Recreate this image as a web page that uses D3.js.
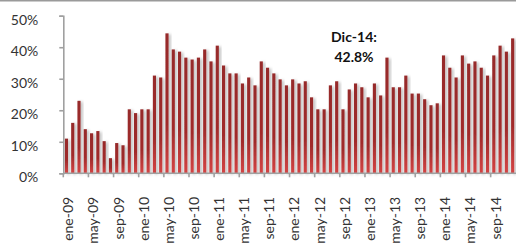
<!DOCTYPE html>
<html>
<head>
<meta charset="utf-8">
<script src="https://cdn.jsdelivr.net/npm/d3@7"></script>
<style>
  body { margin: 0; background: #fff; }
  svg { display: block; font-family: Lato, "Open Sans", sans-serif; }
</style>
</head>
<body>
<svg id="chart"></svg>
<script>
// monthly share, ene-09 .. dic-14
const months = ["ene", "feb", "mar", "abr", "may", "jun", "jul", "ago", "sep", "oct", "nov", "dic"];
const years = ["09", "10", "11", "12", "13", "14"];
const values = [
  11.0, 16.0, 23.0, 14.0, 12.7, 13.4, 10.2, 4.8, 9.6, 8.9, 20.3, 19.1,
  20.3, 20.3, 31.0, 30.4, 44.4, 39.3, 38.6, 36.7, 36.1, 36.7, 39.3, 35.5,
  40.5, 34.2, 31.7, 31.7, 28.5, 30.4, 27.9, 35.5, 33.5, 31.7, 29.8, 27.9,
  29.8, 28.5, 29.2, 24.1, 20.3, 20.3, 27.9, 29.2, 20.3, 26.6, 28.5, 27.3,
  24.1, 28.5, 24.7, 36.7, 27.3, 27.3, 31.0, 25.3, 25.3, 23.5, 21.6, 22.2,
  37.4, 33.5, 30.4, 37.4, 34.8, 35.5, 33.5, 31.0, 37.4, 40.5, 38.6, 42.8
];
const tickLabels = ["ene-09", "may-09", "sep-09", "ene-10", "may-10", "sep-10", "ene-11", "may-11", "sep-11",
  "ene-12", "may-12", "sep-12", "ene-13", "may-13", "sep-13", "ene-14", "may-14", "sep-14"];
const yTicks = [0, 10, 20, 30, 40, 50];
const note = ["Dic-14:", "42.8%"];

const categories = [];
years.forEach(y => months.forEach(m => categories.push(m + "-" + y)));
const data = categories.map((c, i) => ({ cat: c, value: values[i] }));

const width = 516, height = 246;
const margin = { top: 15.7, right: 0.2, bottom: 72.7, left: 63.3 };

const svg = d3.select("#chart").attr("width", width).attr("height", height);

// gradient + soft shadow for bars
const defs = svg.append("defs");
const grad = defs.append("linearGradient")
  .attr("id", "barFill").attr("x1", 0).attr("y1", 0).attr("x2", 0).attr("y2", 1);
grad.append("stop").attr("offset", "0%").attr("stop-color", "#962a2a");
grad.append("stop").attr("offset", "65%").attr("stop-color", "#a12c2c");
grad.append("stop").attr("offset", "100%").attr("stop-color", "#d44444");

defs.append("filter").attr("id", "shadow")
  .attr("x", "-100%").attr("y", "-10%").attr("width", "300%").attr("height", "120%")
  .append("feDropShadow")
  .attr("dx", 2).attr("dy", 1).attr("stdDeviation", 1.4)
  .attr("flood-color", "#000").attr("flood-opacity", 0.28);

// top frame line
svg.append("rect").attr("x", 0).attr("y", 0).attr("width", width).attr("height", 1.5).attr("fill", "#9a9a9a");

const x = d3.scaleBand()
  .domain(categories)
  .range([margin.left, width - margin.right])
  .paddingInner(0.5)
  .paddingOuter(0.25);

const y = d3.scaleLinear()
  .domain([0, 50])
  .range([height - margin.bottom, margin.top]);

// bars
svg.append("g")
  .selectAll("rect")
  .data(data)
  .join("rect")
  .attr("x", d => x(d.cat))
  .attr("width", x.bandwidth())
  .attr("y", d => y(d.value))
  .attr("height", d => y(0) - y(d.value))
  .attr("fill", "url(#barFill)")
  .attr("filter", "url(#shadow)");

// y axis
const yAxis = svg.append("g")
  .attr("transform", `translate(${margin.left},0)`)
  .call(d3.axisLeft(y).tickValues(yTicks).tickSize(4).tickPadding(21).tickFormat(d => d + "%"));
yAxis.select(".domain").attr("stroke", "#a0a0a0").attr("stroke-width", 1.6);
yAxis.selectAll(".tick line").attr("stroke", "#a0a0a0").attr("stroke-width", 1.6);
yAxis.selectAll(".tick text")
  .attr("fill", "#333").style("font-size", "14px").attr("dy", "0.6em")
  .attr("font-family", "Lato, sans-serif");

// x axis: tick marks on the boundary before every 4th month
const step = x.step();
const edge = d => x(d) - (step - x.bandwidth()) / 2;
const xAxis = svg.append("g").attr("transform", `translate(0,${y(0)})`);
xAxis.append("line")
  .attr("x1", margin.left).attr("x2", width)
  .attr("stroke", "#a0a0a0").attr("stroke-width", 1.6);
xAxis.selectAll(".xtick")
  .data(tickLabels)
  .join("line")
  .attr("class", "xtick")
  .attr("x1", edge).attr("x2", edge)
  .attr("y1", 0).attr("y2", 4)
  .attr("stroke", "#a0a0a0").attr("stroke-width", 1.6);
xAxis.selectAll(".xlabel")
  .data(tickLabels)
  .join("text")
  .attr("class", "xlabel")
  .attr("transform", d => `translate(${x(d) + x.bandwidth() / 2 + 6.8},${23.5}) rotate(-90)`)
  .attr("text-anchor", "end")
  .attr("fill", "#333")
  .style("font-size", "14px")
  .text(d => d);

// annotation for the last month
svg.append("text")
  .attr("x", 354).attr("y", 42)
  .attr("text-anchor", "middle")
  .style("font-size", "14px").style("font-weight", "bold")
  .attr("fill", "#111")
  .selectAll("tspan")
  .data(note)
  .join("tspan")
  .attr("x", 354)
  .attr("dy", (d, i) => i === 0 ? 0 : 19.5)
  .text(d => d);
</script>
</body>
</html>
